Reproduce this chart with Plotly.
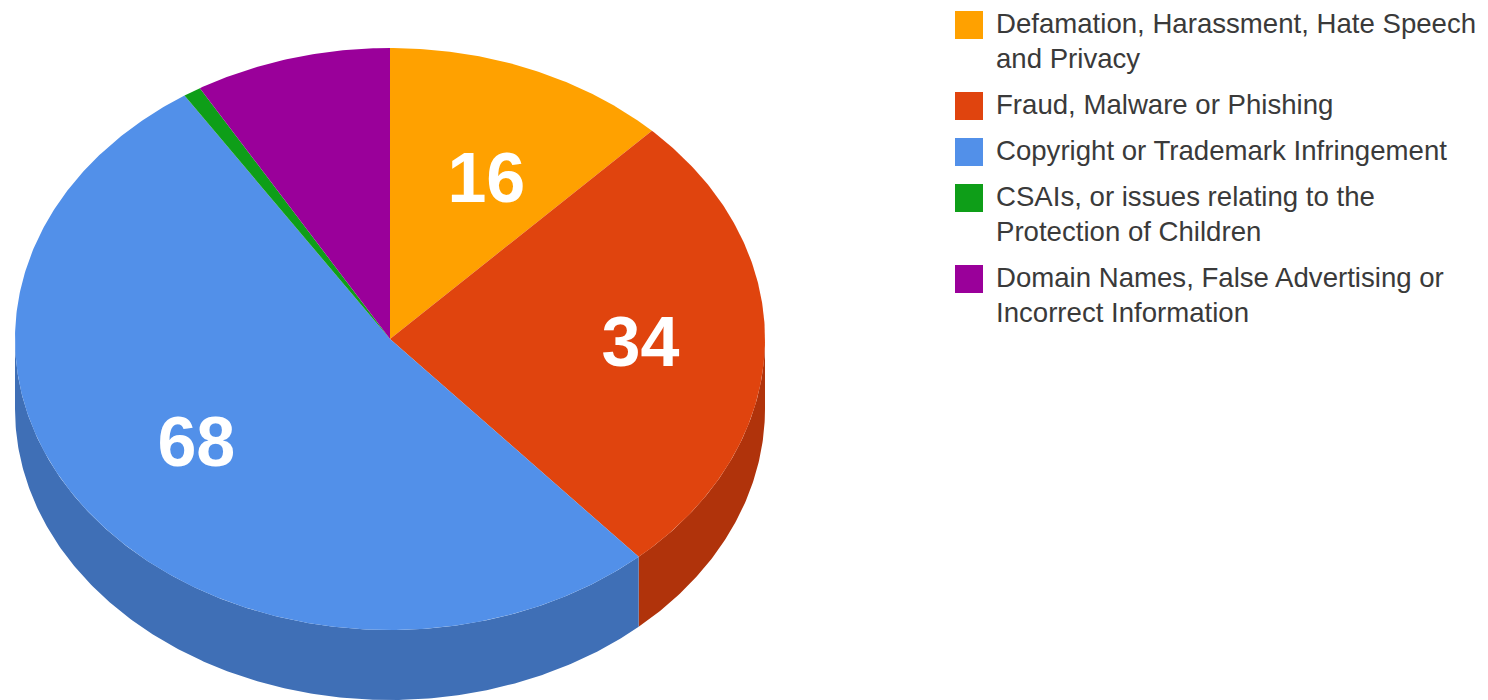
import numpy as np
import plotly.graph_objects as go

categories = [
    "Defamation, Harassment, Hate Speech<br>and Privacy",
    "Fraud, Malware or Phishing",
    "Copyright or Trademark Infringement",
    "CSAIs, or issues relating to the<br>Protection of Children",
    "Domain Names, False Advertising or<br>Incorrect Information",
]
values = [16, 34, 68, 1, 11]
labels = ["16", "34", "68", "", ""]
top_colors = ["#FFA100", "#E0440E", "#5290E9", "#0E9E18", "#9A009A"]
wall_colors = ["#B2770A", "#B0330B", "#3F6FB6", "#0A7612", "#730073"]

CX, CY, RX, RY, DEPTH = 390, 339, 375, 291, 70
LABEL_RX, LABEL_RY = 0.66, 0.59
LABEL_DX, LABEL_DY = 3, 5
FONT = "Liberation Sans, Arial, sans-serif"


def arc(a0, a1, drop=0):
    t = np.radians(np.linspace(a0, a1, max(int(abs(a1 - a0) * 2), 2)))
    return CX + RX * np.sin(t), CY - RY * np.cos(t) + drop


edges = np.concatenate([[0], np.cumsum(values)]) / sum(values) * 360
fig = go.Figure()

# Side walls (only the front half of the ellipse is visible)
for i in range(len(values)):
    a0, a1 = max(edges[i], 90), min(edges[i + 1], 270)
    if a1 <= a0:
        continue
    xt, yt = arc(a0, a1)
    xb, yb = arc(a1, a0, DEPTH)
    fig.add_trace(go.Scatter(x=np.r_[xt, xb], y=np.r_[yt, yb], mode="lines", fill="toself",
                             fillcolor=wall_colors[i], line=dict(width=0), hoverinfo="skip", showlegend=False))

# Top face
for i, name in enumerate(categories):
    xa, ya = arc(edges[i], edges[i + 1])
    fig.add_trace(go.Scatter(x=np.r_[CX, xa], y=np.r_[CY, ya], mode="lines", fill="toself",
                             fillcolor=top_colors[i], line=dict(width=0),
                             name=name.replace("<br>", " "), text=str(values[i]), hoverinfo="name+text",
                             showlegend=False))

# Value labels
mids = np.radians((edges[:-1] + edges[1:]) / 2)
fig.add_trace(go.Scatter(x=CX + LABEL_DX + LABEL_RX * RX * np.sin(mids),
                         y=CY + LABEL_DY - LABEL_RY * RY * np.cos(mids),
                         mode="text", text=labels, textposition="middle center",
                         textfont=dict(family=FONT, size=70, color="white", weight="bold"),
                         hoverinfo="skip", showlegend=False))

# Legend
y = 11
for name, color in zip(categories, top_colors):
    lines = name.count("<br>") + 1
    fig.add_shape(type="rect", x0=955, x1=983, y0=y, y1=y + 28, fillcolor=color, line_width=0)
    for j, line in enumerate(name.split("<br>")):
        fig.add_annotation(x=994, y=y + 12 + 35 * j, text=line, showarrow=False, xanchor="left", yanchor="middle",
                           font=dict(family=FONT, size=27.6, color="#3a3a3a"))
    y += 46 + 35 * (lines - 1)

fig.update_layout(
    width=1488, height=700, margin=dict(l=0, r=0, t=0, b=0),
    paper_bgcolor="white", plot_bgcolor="white", showlegend=False,
    xaxis=dict(range=[0, 1488], visible=False, fixedrange=True),
    yaxis=dict(range=[700, 0], visible=False, fixedrange=True),
)
fig.write_html("out.html", config=dict(displayModeBar=False),
               post_script="document.body.style.margin='0';document.body.style.overflow='hidden';")
